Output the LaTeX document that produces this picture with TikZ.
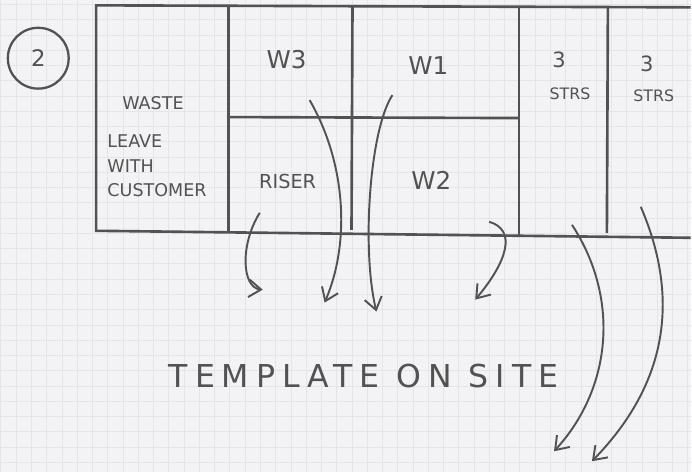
\documentclass[tikz,border=0pt]{standalone}
\usepackage{fontspec}
\setmainfont{DejaVu Sans}
\usetikzlibrary{arrows.meta}
\definecolor{ink}{HTML}{525252}
\definecolor{paper}{HTML}{F3F3F5}
\definecolor{rule}{HTML}{E4E4E9}
\def\wall{\draw[ink,line width=1.5pt]}
\def\swoop{\draw[ink,line width=1.1pt,-{Straight Barb[length=7pt,width=10pt]}]}

\begin{document}
\begin{tikzpicture}[x=0.02cm,y=-0.02cm,
    lbl/.style={text=ink,inner sep=0pt,font=\fontsize{#1}{#1}\selectfont}]
    \fill[paper] (0,0) rectangle (692,473);
    \foreach \gx in {0,...,45} \draw[rule,line width=0.4pt] (\gx*15.3+0.5,0) -- (\gx*15.3+0.5,473);
    \foreach \gy in {0,...,30} \draw[rule,line width=0.4pt] (0,\gy*15.3+4) -- (692,\gy*15.3+4);

    \wall (692,7) -- (96,5) -- (96,231) -- (692,238);
    \wall (229,6) -- (229,232);
    \wall (353,6) -- (352,230);
    \wall (520,7) -- (520,235);
    \wall (609,7) -- (608,233);
    \wall (229,117) -- (520,118);

    \node[lbl=13,draw=ink,line width=1.3pt,circle,minimum size=1.22cm] (two) at (38,58) {2};
    \node[lbl=10] (waste) at (153,103) {WASTE};
    \node[lbl=10,anchor=west,align=left,font=\fontsize{10}{14}\selectfont] (leave) at (107,166) {LEAVE\\WITH\\CUSTOMER};
    \node[lbl=14] (w3) at (287,59) {W3};
    \node[lbl=14] (w1) at (429,65) {W1};
    \node[lbl=11] (riser) at (288,182) {RISER};
    \node[lbl=14] (w2) at (432,180) {W2};
    \node[lbl=12] (three) at (560,60) {3};
    \node[lbl=9] (strs) at (571,94) {STRS};
    \node[lbl=12] (threeb) at (648,64) {3};
    \node[lbl=9] (strsb) at (655,96) {STRS};
    \node[lbl=18,font=\fontsize{18}{18}\selectfont\addfontfeature{LetterSpace=22}] (site) at (364,377) {TEMPLATE ON SITE};

    \coordinate (riserout) at (260,213);
    \coordinate (riserin) at (263,290);
    \coordinate (w3out) at (310,100);
    \coordinate (w3in) at (325,303);
    \coordinate (w1out) at (393,95);
    \coordinate (w1in) at (377,312);
    \coordinate (w2out) at (490,222);
    \coordinate (w2in) at (476,300);
    \coordinate (strsout) at (573,225);
    \coordinate (strsin) at (555,452);
    \coordinate (strsbout) at (642,207);
    \coordinate (strsbin) at (593,462);

    \swoop (riserout) .. controls (240,245) and (242,288) .. (riserin);
    \swoop (w3out) .. controls (345,160) and (352,240) .. (w3in);
    \swoop (w1out) .. controls (370,130) and (362,250) .. (w1in);
    \swoop (w2out) .. controls (518,230) and (508,262) .. (w2in);
    \swoop (strsout) .. controls (622,300) and (612,390) .. (strsin);
    \swoop (strsbout) .. controls (682,300) and (668,385) .. (strsbin);
\end{tikzpicture}
\end{document}
